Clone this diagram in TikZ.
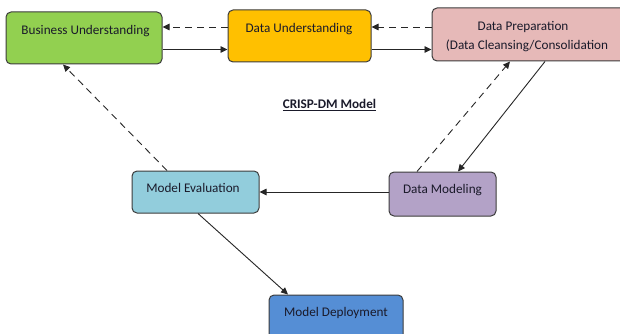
\documentclass[tikz,border=0pt]{standalone}
\usepackage{fontspec}
\setmainfont{Carlito}
\usetikzlibrary{arrows.meta,calc}
\definecolor{bucol}{HTML}{92D050}
\definecolor{ducol}{HTML}{FFC000}
\definecolor{dpcol}{HTML}{E6B9B8}
\definecolor{mecol}{HTML}{92CDDC}
\definecolor{dmcol}{HTML}{B3A2C7}
\definecolor{mdcol}{HTML}{558ED5}
\definecolor{edgecol}{HTML}{3C3C3C}
\definecolor{txtcol}{HTML}{1A1A2A}
\tikzset{
  box/.style={draw=edgecol, line width=1pt, rounded corners=5pt, inner sep=0pt},
  lbl/.style={text=txtcol, font=\fontsize{13.2}{15}\selectfont, inner sep=0pt, align=center},
  conn/.style={line width=0.9pt, draw=black!85, -{Triangle[length=7pt,width=6.5pt]}},
  dconn/.style={conn, dash pattern=on 7pt off 5pt}
}
\begin{document}
\begin{tikzpicture}[x=1pt,y=-1pt]
\useasboundingbox (0,0) rectangle (620,334);
% boxes
\node[box, fill=bucol, minimum width=156pt, minimum height=52pt] (bu) at (84,38) {};
\node[box, fill=ducol, minimum width=143pt, minimum height=52pt] (du) at (299.5,36) {};
\node[box, fill=dpcol, minimum width=208pt, minimum height=53pt] (dp) at (536,34.5) {};
\node[box, fill=mecol, minimum width=127pt, minimum height=42pt] (me) at (195.5,192) {};
\node[box, fill=dmcol, minimum width=107pt, minimum height=44pt] (dm) at (442.5,194) {};
\node[box, fill=mdcol, minimum width=134pt, minimum height=45pt] (md) at (336,317.5) {};
% labels
\node[lbl] (bu-t) at (85.5,31) {Business Understanding};
\node[lbl] (du-t) at (299,29.5) {Data Understanding};
\node[lbl] (dp-t1) at (523,27.5) {Data Preparation};
\node[lbl] (dp-t2) at (527,45.5) {(Data Cleansing/Consolidation};
\node[lbl] (me-t) at (193,188) {Model Evaluation};
\node[lbl] (dm-t) at (442.5,190) {Data Modeling};
\node[lbl] (md-t) at (336,312.5) {Model Deployment};
\node[lbl, font=\fontsize{13.2}{15}\selectfont\bfseries] (title) at (329.5,105) {\underline{CRISP-DM Model}};
% helper levels
\coordinate (ytop) at (0,27);
\coordinate (ybot) at (0,49.5);
\coordinate (ymid) at (0,192);
% connectors
\draw[dconn] (du.west |- ytop) -- (bu.east |- ytop);
\draw[conn] (bu.east |- ybot) -- (du.west |- ybot);
\draw[dconn] (dp.west |- ytop) -- (du.east |- ytop);
\draw[conn] (du.east |- ybot) -- (dp.west |- ybot);
\draw[dconn] ([xshift=-28.5pt]me.north) -- ([xshift=-21pt]bu.south);
\draw[dconn] ([xshift=-25.5pt]dm.north) -- ([xshift=-26pt]dp.south);
\draw[conn] ([xshift=9pt]dp.south) -- ([xshift=15.5pt]dm.north);
\draw[conn] (dm.west |- ymid) -- (me.east |- ymid);
\draw[conn] ([xshift=2.5pt]me.south) -- ([xshift=-48pt]md.north);
\end{tikzpicture}
\end{document}
